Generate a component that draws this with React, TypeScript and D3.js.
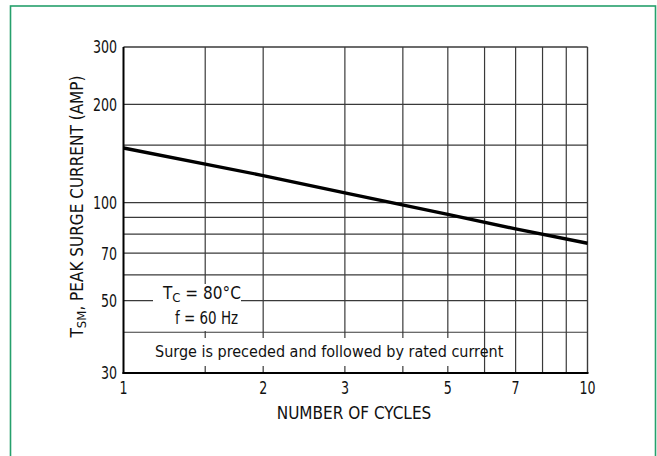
import React from "react";
import * as d3 from "d3";

const cycles = [1, 2, 3, 5, 7, 10];
const surgeAmps = [147, 121, 107, 92, 83, 75];
const xGrid = [1.5, 2, 3, 4, 5, 6, 7, 8, 9];
const yGrid = [40, 50, 60, 70, 80, 90, 100, 150, 200];
const xTicks = [1, 2, 3, 5, 7, 10];
const yTicks = [30, 50, 70, 100, 200, 300];

const FONT = "'Liberation Sans Narrow', 'DejaVu Sans Condensed', 'Liberation Sans', sans-serif";

export default function App() {
  const W = 657, H = 456;
  const x = d3.scaleLog().domain([1, 10]).range([123.5, 587.5]);
  const y = d3.scaleLog().domain([30, 300]).range([373, 47]);
  const line = d3.line<number>().x((_, i) => x(cycles[i])).y((d) => y(d));
  const gridColor = "#3a3a3a";

  return (
    <svg width={W} height={H} style={{ position: "absolute", left: 0, top: 0, background: "#fff" }} fontFamily={FONT}>
      <rect x={10.5} y={6} width={645} height={460} fill="none" stroke="#26a06c" strokeWidth={1.6} />
      {/* grid */}
      {xGrid.map((v) => (
        <line key={"xg" + v} x1={x(v)} x2={x(v)} y1={y(300)} y2={y(30)} stroke={gridColor} strokeWidth={1.2} />
      ))}
      {yGrid.map((v) => (
        <line key={"yg" + v} x1={x(1)} x2={x(10)} y1={y(v)} y2={y(v)} stroke={gridColor} strokeWidth={1.2} />
      ))}
      {/* frame top/right */}
      <line x1={x(1)} x2={x(10)} y1={y(300)} y2={y(300)} stroke={gridColor} strokeWidth={1.4} />
      <line x1={x(10)} x2={x(10)} y1={y(300)} y2={y(30)} stroke={gridColor} strokeWidth={1.4} />
      {/* annotation boxes */}
      <rect x={153} y={284} width={88} height={47} fill="#fff" />
      <rect x={126} y={338} width={344} height={28} fill="#fff" />
      {/* axes */}
      <line x1={x(1)} x2={x(1)} y1={y(300)} y2={y(30) + 1} stroke="#000" strokeWidth={2} />
      <line x1={x(1) - 1} x2={x(10) + 1} y1={y(30)} y2={y(30)} stroke="#000" strokeWidth={2} />
      {/* data */}
      <path d={line(surgeAmps) || ""} fill="none" stroke="#000" strokeWidth={3.4} />
      {/* tick labels */}
      {yTicks.map((v) => (
        <text key={"yt" + v} transform={`translate(117,${y(v)}) scale(0.78,1)`} dy="0.36em" textAnchor="end" fontSize={18} fill="#111">
          {v}
        </text>
      ))}
      {xTicks.map((v) => (
        <text key={"xt" + v} transform={`translate(${x(v)},394) scale(0.78,1)`} textAnchor="middle" fontSize={18} fill="#111">
          {v}
        </text>
      ))}
      <text x={354} y={419} textAnchor="middle" fontSize={17} fill="#111">NUMBER OF CYCLES</text>
      <text transform="translate(83,206.5) rotate(-90)" textAnchor="middle" fontSize={17} fill="#111">
        T<tspan fontSize={13} dy={3}>SM</tspan>
        <tspan dy={-3}>, PEAK SURGE CURRENT (AMP)</tspan>
      </text>
      <text x={163} y={299} fontSize={17} fill="#111">
        T<tspan fontSize={13} dy={3}>C</tspan>
        <tspan dy={-3}> = 80°C</tspan>
      </text>
      <text transform="translate(175,324) scale(0.88,1)" fontSize={17} fill="#111">f = 60 Hz</text>
      <text x={155} y={357} fontSize={16} fill="#111">Surge is preceded and followed by rated current</text>
    </svg>
  );
}
